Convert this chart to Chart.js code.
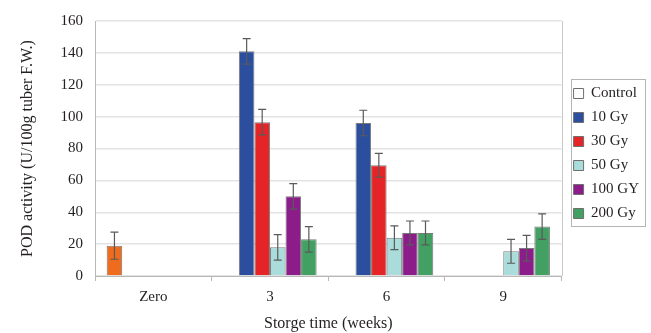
<!DOCTYPE html>
<html>
<head>
<meta charset="utf-8">
<script src="https://cdn.jsdelivr.net/npm/chart.js@4"></script>
<style>
  html, body { margin: 0; padding: 0; background: #fff; }
  #wrap { width: 651px; height: 333px; }
</style>
</head>
<body>
<div id="wrap"><canvas id="chart" width="651" height="333"></canvas></div>
<script>
// Storage time categories
const weeks = ["Zero", "3", "6", "9"];

// POD activity per treatment (null = no bar)
const control = [19, null, null, null];
const gy10 = [null, 141, 96, null];
const gy30 = [null, 96.5, 69.5, null];
const gy50 = [null, 18, 24, 15.5];
const gy100 = [null, 50, 27, 17.5];
const gy200 = [null, 23, 27, 31];

// error bar half-widths
const errControl = [8.5, null, null, null];
const err10 = [null, 8, 8, null];
const err30 = [null, 8, 7.5, null];
const err50 = [null, 8, 7.5, 7.5];
const err100 = [null, 8, 7.5, 8];
const err200 = [null, 8, 7.5, 8];

const seriesNames = ["Control", "10 Gy", "30 Gy", "50 Gy", "100 GY", "200 Gy"];
const yTicks = [0, 20, 40, 60, 80, 100, 120, 140, 160];

const textColor = "#231f20";
const serif = "'Liberation Serif', 'DejaVu Serif', serif";

function ds(label, data, errs, color, legendColor) {
  return {
    label,
    data,
    errs,
    legendColor,
    backgroundColor: color,
    borderColor: "#7a7a7a",
    borderWidth: 1,
    categoryPercentage: 0.8,
    barPercentage: 1.0,
  };
}

// draws the error bars through the y scale
const errorBars = {
  id: "errorBars",
  afterDatasetsDraw(chart) {
    const ctx = chart.ctx;
    const y = chart.scales.y;
    ctx.save();
    ctx.strokeStyle = "#5a5a5a";
    ctx.lineWidth = 1.2;
    chart.data.datasets.forEach((d, di) => {
      const meta = chart.getDatasetMeta(di);
      meta.data.forEach((bar, i) => {
        const v = d.data[i];
        const e = d.errs[i];
        if (v == null || e == null) return;
        const yt = y.getPixelForValue(v + e);
        const yb = y.getPixelForValue(v - e);
        ctx.beginPath();
        ctx.moveTo(bar.x, yt); ctx.lineTo(bar.x, yb);
        ctx.moveTo(bar.x - 4, yt); ctx.lineTo(bar.x + 4, yt);
        ctx.moveTo(bar.x - 4, yb); ctx.lineTo(bar.x + 4, yb);
        ctx.stroke();
      });
    });
    ctx.restore();
  },
};

// nudge the legend a bit right and down, like the original
const legendNudge = {
  id: "legendNudge",
  afterLayout(chart) {
    const lg = chart.legend;
    lg.left += 3; lg.right += 3;
    lg.top += 5; lg.bottom += 5;
  },
};

// frame around the legend and right edge of plot
const frames = {
  id: "frames",
  afterDraw(chart) {
    const ctx = chart.ctx;
    const boxes = chart.legend.legendHitBoxes;
    if (!boxes || !boxes.length) return;
    let l = Infinity, t = Infinity, r = -Infinity, b = -Infinity;
    boxes.forEach((h) => {
      l = Math.min(l, h.left); t = Math.min(t, h.top);
      r = Math.max(r, h.left + h.width); b = Math.max(b, h.top + h.height);
    });
    ctx.save();
    ctx.strokeStyle = "#b5b5b5";
    ctx.lineWidth = 1;
    ctx.strokeRect(Math.round(l - 3) + 0.5, Math.round(t - 7) + 0.5, Math.round(r - l + 9), Math.round(b - t + 12));
    const a = chart.chartArea;
    ctx.strokeStyle = "#c8c8c8";
    ctx.beginPath();
    ctx.moveTo(Math.round(a.right) + 0.5, a.top);
    ctx.lineTo(Math.round(a.right) + 0.5, a.bottom);
    ctx.stroke();
    ctx.restore();
  },
};

new Chart(document.getElementById("chart"), {
  type: "bar",
  data: {
    labels: weeks,
    datasets: [
      ds(seriesNames[0], control, errControl, "#ef6c1e", "#ffffff"),
      ds(seriesNames[1], gy10, err10, "#2b4f9e", "#2b4f9e"),
      ds(seriesNames[2], gy30, err30, "#e52428", "#e52428"),
      ds(seriesNames[3], gy50, err50, "#a9dcda", "#a9dcda"),
      ds(seriesNames[4], gy100, err100, "#8b1c8a", "#8b1c8a"),
      ds(seriesNames[5], gy200, err200, "#41a062", "#41a062"),
    ],
  },
  options: {
    responsive: false,
    animation: false,
    layout: { padding: { top: 20, right: 5, left: 0, bottom: 0 } },
    scales: {
      x: {
        grid: { offset: true, drawOnChartArea: false, drawTicks: true, tickLength: 5, color: "#b8b8b8" },
        border: { color: "#b8b8b8" },
        ticks: { color: textColor, font: { family: serif, size: 15 }, padding: 7 },
        title: { display: true, text: "Storge time (weeks)", color: textColor, font: { family: serif, size: 16 }, padding: { top: 4, bottom: 0 } },
        afterFit: (s) => { s.height = 57; },
      },
      y: {
        min: 0,
        max: 160,
        afterBuildTicks: (s) => { s.ticks = yTicks.map((v) => ({ value: v })); },
        grid: { color: "#e3e3e3", lineWidth: 1.5, drawTicks: false },
        border: { color: "#b8b8b8" },
        ticks: { color: textColor, font: { family: serif, size: 15 }, padding: 12 },
        title: { display: true, text: "POD activity (U/100g tuber F.W.)", color: textColor, font: { family: serif, size: 16 }, padding: { top: 18, bottom: 4 } },
        afterFit: (s) => { s.width = 95; },
      },
    },
    plugins: {
      tooltip: { enabled: false },
      legend: {
        position: "right",
        fullSize: false,
        labels: {
          color: textColor,
          font: { family: serif, size: 15 },
          boxWidth: 10,
          boxHeight: 10,
          padding: 9,
          generateLabels: (chart) =>
            chart.data.datasets.map((d, i) => ({
              text: d.label,
              fillStyle: d.legendColor,
              strokeStyle: "#6e6e6e",
              lineWidth: 1,
              fontColor: textColor,
              datasetIndex: i,
            })),
        },
      },
    },
  },
  plugins: [errorBars, legendNudge, frames],
});
</script>
</body>
</html>
